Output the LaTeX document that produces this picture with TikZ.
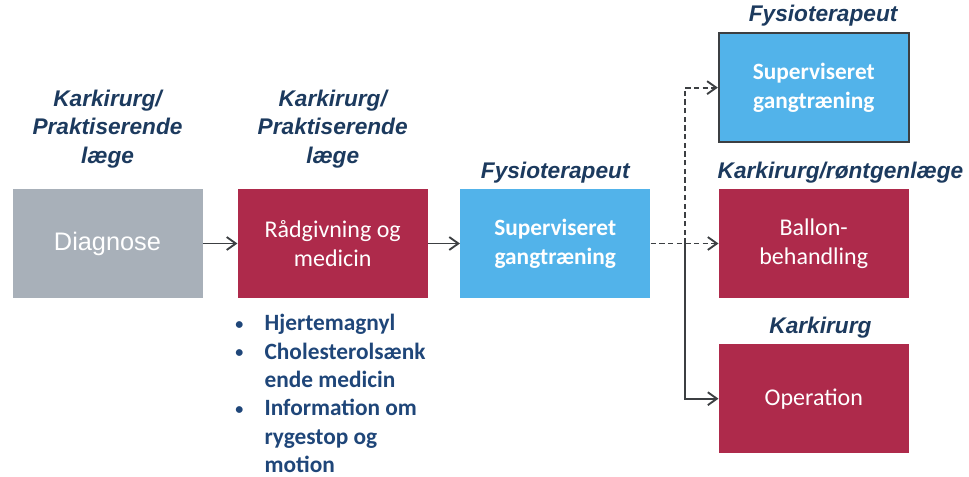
\documentclass[tikz,border=0pt]{standalone}
\usepackage{fontspec}
\setmainfont{Carlito}
\newfontfamily\arialfont{Liberation Sans}
\usetikzlibrary{positioning,arrows.meta}
\definecolor{diaggrey}{HTML}{A8B0B9}
\definecolor{vascred}{HTML}{AE2A4B}
\definecolor{physblue}{HTML}{52B3EA}
\definecolor{rolenavy}{HTML}{1C3A5E}
\definecolor{listnavy}{HTML}{1F4679}
\definecolor{arrowgrey}{HTML}{3C3F42}
\newcommand{\blt}{\makebox[22pt][l]{\raisebox{1pt}{\fontsize{12}{12}\selectfont\textbullet}}}

\begin{document}
\begin{tikzpicture}[
  x=0.75pt, y=-0.75pt,
  box/.style={minimum width=142.5pt, minimum height=82pt, inner sep=0pt,
              align=center, text=white, font=\fontsize{18}{22}\selectfont},
  greybox/.style={box, fill=diaggrey},
  redbox/.style={box, fill=vascred},
  bluebox/.style={box, fill=physblue, font=\bfseries\fontsize{17.5}{22}\selectfont},
  role/.style={font=\arialfont\bfseries\itshape\fontsize{17}{21.5}\selectfont,
               text=rolenavy, align=center, inner sep=0pt},
  link/.style={draw=arrowgrey, line width=1.4pt},
  dashlink/.style={link, dash pattern=on 4pt off 2.5pt},
  >={Straight Barb[length=2.4mm, width=3.4mm]}
]
\useasboundingbox (0,0) rectangle (969,477);

% main chain
\node[greybox] (diag) at (107.5,243.5) {\arialfont\fontsize{19}{22}\selectfont Diagnose};
\node[redbox, right=26pt of diag] (raad) {Rådgivning og\\medicin};
\node[bluebox, right=24pt of raad] (sup) {Superviseret\\gangtræning};
\coordinate[right=26pt of sup] (split);

% treatment options
\node[redbox, right=51pt of sup] (ballon) {Ballon-\\behandling};
\node[bluebox, draw=arrowgrey, line width=1.4pt, above=34pt of ballon] (sup2) {Superviseret\\gangtræning};
\node[redbox, below=34pt of ballon] (op) {Operation};

% who does it
\node[role, above=15pt of diag] {Karkirurg/\\Praktiserende\\læge};
\node[role, above=15pt of raad] {Karkirurg/\\Praktiserende\\læge};
\node[role, above=4pt of sup] {Fysioterapeut};
\node[role, above=4pt of sup2, xshift=7pt] {Fysioterapeut};
\node[role, above=4pt of ballon, xshift=20pt] {Karkirurg/røntgenlæge};
\node[role, above=4pt of op, xshift=5pt] {Karkirurg};

% advice list
\node[anchor=north west, align=left, text=listnavy, inner sep=0pt,
      font=\bfseries\fontsize{17.5}{21.3}\selectfont] (advice) at (235,314)
  {\blt Hjertemagnyl\\
   \blt Cholesterolsænk\\
   \hspace*{22pt}ende medicin\\
   \blt Information om\\
   \hspace*{22pt}rygestop og\\
   \hspace*{22pt}motion};

\draw[link, ->] (diag) -- (raad);
\draw[link, ->] (raad) -- (sup);
\draw[dashlink, ->] (sup) -- (ballon);
\draw[dashlink, ->] (split) |- (sup2.west);
\draw[link, ->] (split) |- (op.west);
\end{tikzpicture}
\end{document}
